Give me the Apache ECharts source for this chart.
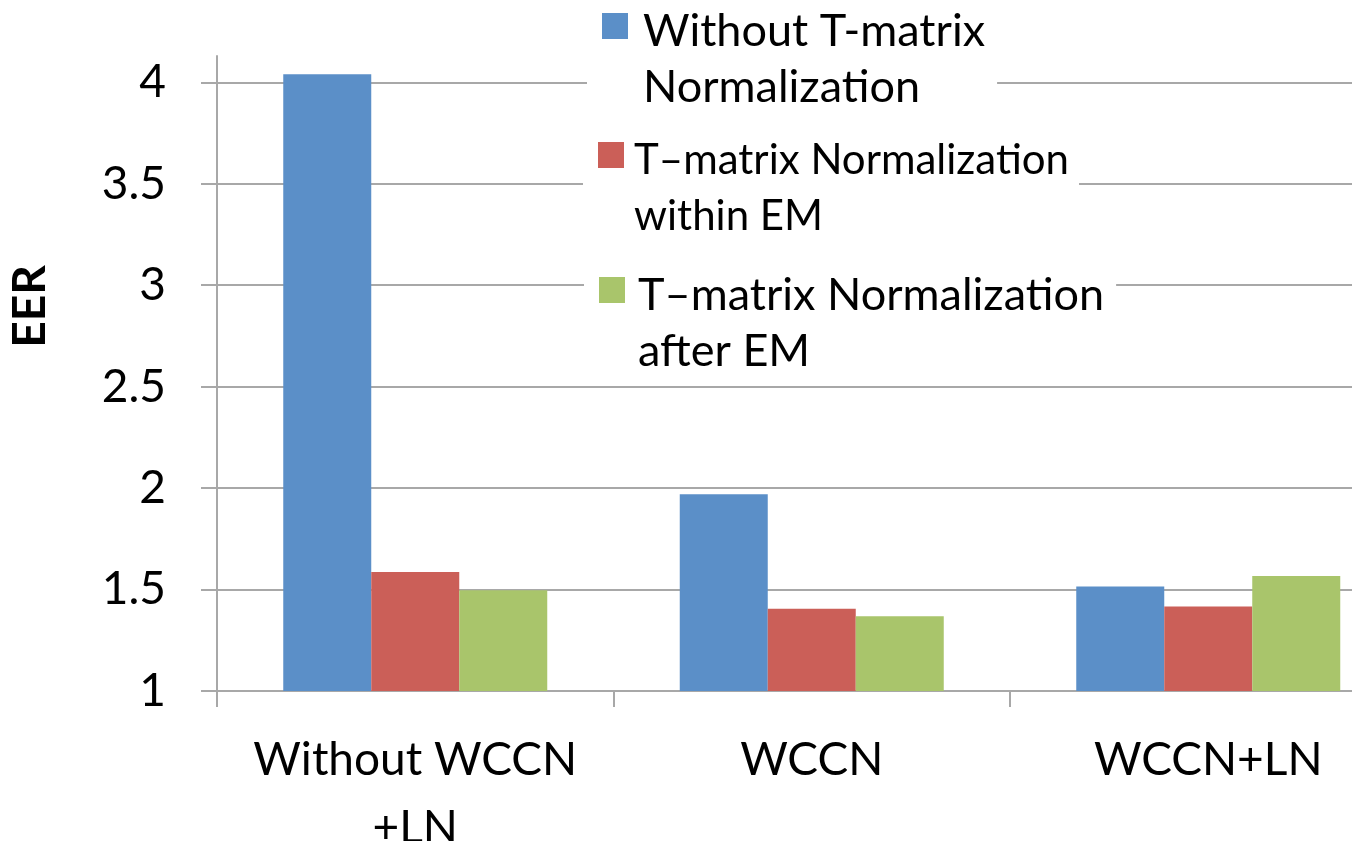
<!DOCTYPE html>
<html>
<head>
<meta charset="utf-8">
<script src="https://cdn.jsdelivr.net/npm/echarts@6/dist/echarts.min.js"></script>
<style>
  html, body { margin: 0; padding: 0; background: #fff; overflow: hidden; }
  #chart { width: 1420px; height: 841px; }
</style>
</head>
<body>
<div id="chart"></div>
<script>
// Categories along the x axis
const categories = ['Without WCCN\n+LN', 'WCCN', 'WCCN+LN'];

// Series names
const seriesNames = [
  'Without T-matrix Normalization',
  'T\u2013matrix Normalization within EM',
  'T\u2013matrix Normalization after EM'
];

// EER values per series
const withoutNorm = [4.04, 1.97, 1.515];
const normWithinEM = [1.586, 1.406, 1.416];
const normAfterEM = [1.497, 1.369, 1.567];

// Y axis tick labels
const yTicks = [1, 1.5, 2, 2.5, 3, 3.5, 4];

// Legend text split over two lines
const legendText = {
  'Without T-matrix Normalization': 'Without T-matrix\nNormalization',
  'T\u2013matrix Normalization within EM': 'T\u2013matrix Normalization\nwithin EM',
  'T\u2013matrix Normalization after EM': 'T\u2013matrix Normalization\nafter EM'
};

const colors = ['#5b8fc8', '#cb5f58', '#a9c56b'];
const FONT = 'Lato';
const gridColor = '#a8a8a8';

// Legend swatch: a 26px square at the top of a taller item box, so the
// square lines up with the first line of the two-line label.
function swatch(w) {
  return 'path://M0,0h26v26h-26z M0,92h' + w;
}

function legendFor(i, left, top, iconW, pad, fontSize) {
  return {
    show: true,
    data: [seriesNames[i]],
    left: left,
    top: top,
    orient: 'vertical',
    selectedMode: false,
    icon: swatch(iconW),
    itemWidth: iconW,
    itemHeight: 92,
    itemStyle: { borderWidth: 0 },
    backgroundColor: '#fff',
    padding: pad,
    formatter: function (name) { return legendText[name]; },
    textStyle: {
      fontFamily: FONT,
      fontSize: fontSize,
      color: '#000',
      lineHeight: 56
    }
  };
}

const seriesData = [withoutNorm, normWithinEM, normAfterEM];

const option = {
  backgroundColor: '#fff',
  animation: false,
  color: colors,
  grid: { left: 217, top: 56, bottom: 150, width: 1189.5, outerBoundsMode: 'none' },
  legend: [
    legendFor(0, 587, 3, 36, [0, 12, 0, 15], 45),
    legendFor(1, 583, 127, 31, [5, 10, 0, 15], 42),
    legendFor(2, 584, 262, 34, [5, 12, -5, 15], 45)
  ],
  xAxis: {
    type: 'category',
    data: categories,
    axisLine: { lineStyle: { color: gridColor, width: 2 } },
    axisTick: { show: true, length: 16, lineStyle: { color: gridColor, width: 2 } },
    axisLabel: {
      fontFamily: FONT,
      fontSize: 46,
      color: '#000',
      lineHeight: 68,
      margin: 35,
      interval: 0
    }
  },
  yAxis: {
    type: 'value',
    min: 1,
    max: 4.13,
    interval: 0.5,
    name: 'EER',
    nameLocation: 'middle',
    nameRotate: 90,
    nameGap: 164,
    nameTextStyle: {
      fontFamily: FONT,
      fontSize: 46,
      fontWeight: 'bold',
      color: '#000',
      padding: [0, 0, 0, 134]
    },
    axisLine: { show: true, lineStyle: { color: gridColor, width: 2 } },
    axisTick: { show: true, length: 16, customValues: yTicks, lineStyle: { color: gridColor, width: 2 } },
    axisLabel: {
      customValues: yTicks,
      fontFamily: FONT,
      fontSize: 46,
      color: '#000',
      margin: 51,
      padding: [18, 0, 0, 0]
    },
    splitLine: {
      show: true,
      lineStyle: { color: gridColor, width: 2 }
    }
  },
  series: seriesNames.map(function (name, i) {
    return {
      name: name,
      type: 'bar',
      data: seriesData[i],
      barWidth: 88,
      barGap: '0%',
      itemStyle: { color: colors[i] }
    };
  })
};

const chart = echarts.init(document.getElementById('chart'), null, { renderer: 'canvas' });
chart.setOption(option);
</script>
</body>
</html>
